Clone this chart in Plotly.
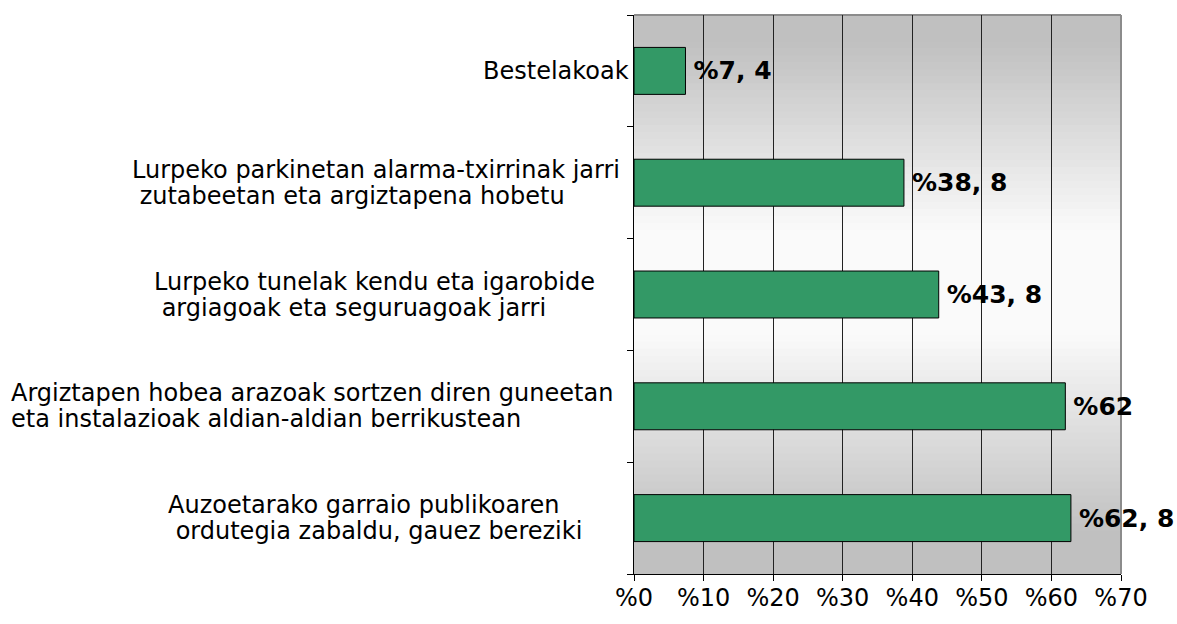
import plotly.graph_objects as go

categories = [
    ["Bestelakoak"],
    ["Lurpeko parkinetan alarma-txirrinak jarri", "\u00a0zutabeetan eta argiztapena hobetu"],
    ["Lurpeko tunelak kendu eta igarobide", "\u00a0argiagoak eta seguruagoak jarri"],
    ["Argiztapen hobea arazoak sortzen diren guneetan", "eta instalazioak aldian-aldian berrikustean"],
    ["Auzoetarako garraio publikoaren", "\u00a0ordutegia zabaldu, gauez bereziki"],
]
values = [7.4, 38.8, 43.8, 62, 62.8]
x_ticks = [0, 10, 20, 30, 40, 50, 60, 70]
x_tick_labels = ["%" + str(t) for t in x_ticks]

# left edge (px offset from the plot's left edge) of each label block
label_left = [-153, -504, -482, -625, -468]

FONT = "DejaVu Sans"
positions = list(range(len(categories)))
texts = ["\u2009%" + (str(v) if v != int(v) else str(int(v))).replace(".", ", ") for v in values]

fig = go.Figure()
fig.add_trace(go.Bar(
    y=positions, x=values, orientation="h", width=0.42,
    marker=dict(color="#339966", line=dict(color="#000000", width=1)),
    text=texts, textposition="outside", constraintext="none", cliponaxis=False,
    textfont=dict(family=FONT, size=25, color="#000000", weight="bold"),
    hoverinfo="skip",
))

shapes = []
stops = [(0.0, 192), (0.053, 192), (0.387, 250), (0.572, 250), (0.933, 192), (1.0, 192)]
N = 80
def shade(t):
    for (t0, c0), (t1, c1) in zip(stops[:-1], stops[1:]):
        if t0 <= t <= t1:
            return c0 + (c1 - c0) * (t - t0) / (t1 - t0) if t1 > t0 else c0
    return stops[-1][1]
for i in range(N):
    t0, t1 = i / N, (i + 1) / N
    c = int(round(shade((t0 + t1) / 2)))
    shapes.append(dict(type="rect", xref="x domain", yref="y domain",
                       x0=0, x1=1, y0=1 - t1, y1=min(1, 1 - t0 + 0.003),
                       fillcolor=f"rgb({c},{c},{c})", line=dict(width=0), layer="below"))
# top and right border (grey)
shapes.append(dict(type="line", xref="x domain", yref="y domain", x0=0, x1=1, y0=1, y1=1,
                   line=dict(color="#8c8c8c", width=2), layer="below"))
shapes.append(dict(type="line", xref="x domain", yref="y domain", x0=1, x1=1, y0=0, y1=1,
                   line=dict(color="#8c8c8c", width=2), layer="below"))
fig.update_layout(shapes=shapes)

for i, lines in enumerate(categories):
    n = len(lines)
    for j, line in enumerate(lines):
        fig.add_annotation(xref="paper", yref="y", x=0, y=i, text=line, showarrow=False,
                           xanchor="left", yanchor="middle", align="left",
                           xshift=label_left[i], yshift=(n - 1) * 13 - j * 26,
                           font=dict(family=FONT, size=24, color="#000000"))

fig.update_xaxes(range=[0, 70], tickvals=x_ticks, ticktext=x_tick_labels,
                 showgrid=True, gridcolor="#222222", gridwidth=1,
                 ticks="outside", ticklen=6, tickcolor="#000000",
                 showline=True, linecolor="#000000", linewidth=1,
                 ticklabelstandoff=-4,
                 tickfont=dict(family=FONT, size=24, color="#000000"), zeroline=False)
fig.update_yaxes(range=[4.5, -0.5], tickvals=[-0.5, 0.5, 1.5, 2.5, 3.5, 4.5],
                 showticklabels=False, showgrid=False, zeroline=False,
                 ticks="outside", ticklen=6, tickcolor="#000000",
                 showline=True, linecolor="#000000", linewidth=1)

fig.update_layout(
    width=1177, height=624,
    margin=dict(l=634, r=56, t=15, b=41),
    paper_bgcolor="#ffffff", plot_bgcolor="#ffffff",
    showlegend=False, bargap=0.58,
    font=dict(family=FONT),
)
fig.write_html("out.html", config={"displayModeBar": False},
               post_script="document.body.style.margin='0px';")
